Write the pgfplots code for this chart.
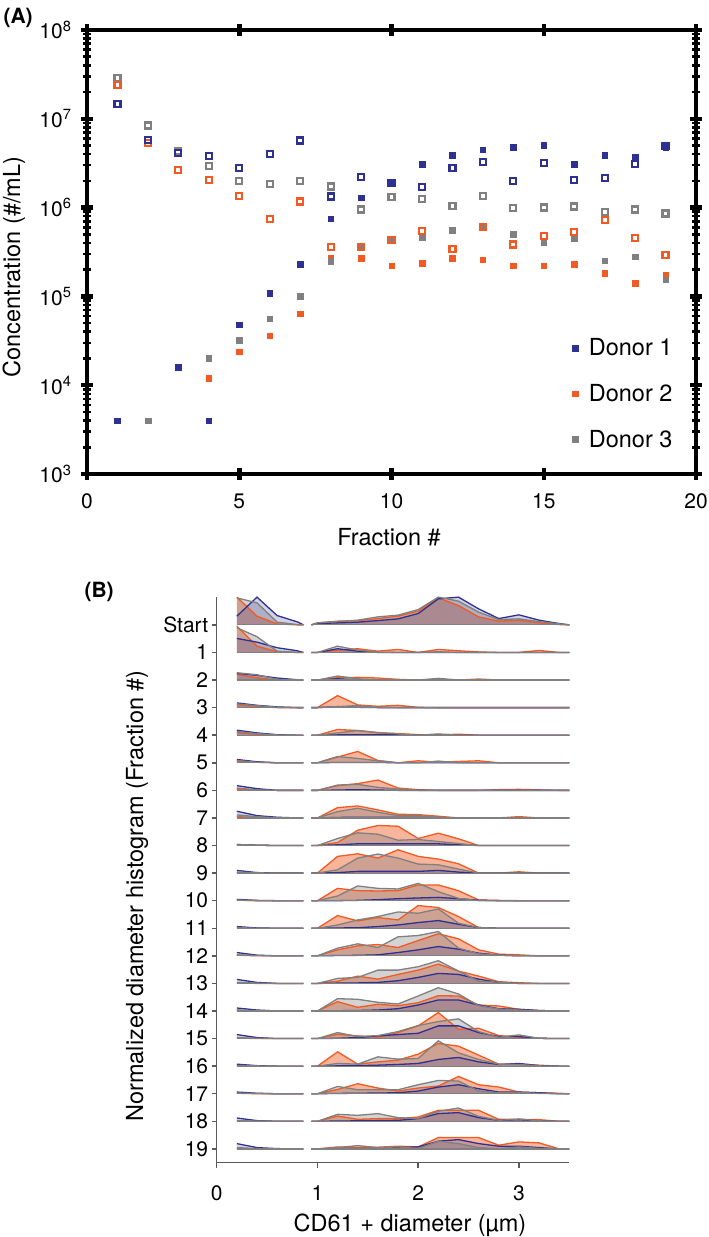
\documentclass[border=0pt]{standalone}
\usepackage{fontspec}
\setmainfont{TeX Gyre Heros}
\usepackage{pgfplots}
\usepackage{pgfplotstable}
\pgfplotsset{compat=1.18}

\definecolor{cBl}{RGB}{46,49,146}
\definecolor{cOr}{RGB}{241,90,34}
\definecolor{cGr}{RGB}{128,128,128}
\definecolor{axgray}{RGB}{90,90,90}

% ridgeline rows: x, heights (px) for donor 2 (o), donor 3 (g), donor 1 (b)
\pgfplotstableread{
x o g b
0.2 0 0 0
0.2 27.7 27 8.7
0.4 8.7 22 27.7
0.6 1 2.7 9.3
0.8 0 0.3 3
0.86 0 0 0
nan 0 0 0
0.94 0 0 0
1.0 2 2 1.3
1.2 3.7 3.3 2
1.4 4.3 4.7 2.7
1.6 6.3 8 4.3
1.8 8.7 9.7 6
2.0 13.7 15.3 11.3
2.2 27 27.7 26
2.4 19.3 23.7 27.7
2.6 8 12.7 16
2.8 3.7 5.3 6.3
3.0 4.7 6 10
3.2 2 3.3 4.7
3.4 0.3 1 1.3
3.5 0 0 0
}\rStart
\pgfplotstableread{
x o g b
0.2 0 0 0
0.2 26.3 24.7 14
0.4 6.3 15.7 10.3
0.6 0.7 1.3 4.7
0.8 0 0 1.7
0.86 0 0 0
nan 0 0 0
0.94 0 0 0
1.0 0 0 0
1.2 2.3 6.3 3.7
1.4 3.7 2.3 1.3
1.6 1.3 0.3 0
1.8 3 0 0
2.0 0 0 0
2.2 3 0.7 0
2.4 1.7 0 0
2.6 0.5 0 0
2.8 0 0 0
3.0 0 0 0
3.2 2 0 0
3.4 0 0 0
3.5 0 0 0
}\rA
\pgfplotstableread{
x o g b
0.2 0 0 0
0.2 5.7 7.3 6.7
0.4 2.3 5.3 4.7
0.6 0 0.7 2
0.8 0 0 0.3
0.86 0 0 0
nan 0 0 0
0.94 0 0 0
1.0 0 0 0
1.2 2.3 4 1.3
1.4 2.7 1.3 0
1.6 2 0 0
1.8 0.7 0 0
2.0 0 0 0
2.2 0 1.7 0
2.4 0 0 0
2.6 1 0 0
2.8 0 0 0
3.0 0 0 0
3.2 0 0 0
3.4 0 0 0
3.5 0 0 0
}\rB
\pgfplotstableread{
x o g b
0.2 0 0 0
0.2 2.7 3.7 4.7
0.4 1.3 2 2.3
0.6 0 0.3 0.7
0.8 0 0 0
0.86 0 0 0
nan 0 0 0
0.94 0 0 0
1.0 0 0 0
1.2 12 1 1
1.4 2.7 2 0.3
1.6 1.3 0.3 0
1.8 2.3 0 0
2.0 0.3 0 0
2.2 0 0 0
2.4 0 0 0
2.6 0 0 0
2.8 0 0 0
3.0 0 0 0
3.2 0 0 0
3.4 0 0 0
3.5 0 0 0
}\rC
\pgfplotstableread{
x o g b
0.2 0 0 0
0.2 2.7 3.7 5
0.4 1 1.5 2.3
0.6 0 0.3 0.5
0.8 0 0 0
0.86 0 0 0
nan 0 0 0
0.94 0 0 0
1.0 0 0 0
1.2 5.7 2.3 0.3
1.4 4.7 4.7 0.3
1.6 2.3 2.7 0.3
1.8 1.7 1.3 0.3
2.0 0.5 0 0
2.2 0.3 1.3 0
2.4 1 0 0
2.6 0 0 0
2.8 0 0 0
3.0 0 0 0
3.2 0 0 0
3.4 0 0 0
3.5 0 0 0
}\rD
\pgfplotstableread{
x o g b
0.2 0 0 0
0.2 1.7 2.3 3.3
0.4 0.5 0.5 1
0.6 0 0 0
0.8 0 0 0
0.86 0 0 0
nan 0 0 0
0.94 0 0 0
1.0 0 0 0
1.2 5.7 6.3 0.3
1.4 11.3 4.3 0.3
1.6 2.3 2 0.3
1.8 0 0 0
2.0 2 0 0
2.2 0.5 1.7 0
2.4 1.3 0 0
2.6 2 0 0
2.8 0 0 0
3.0 0 0 0
3.2 0 0 0
3.4 0 0 0
3.5 0 0 0
}\rE
\pgfplotstableread{
x o g b
0.2 0 0 0
0.2 1.3 2.3 4.7
0.4 0.3 0.5 1.7
0.6 0 0 0
0.8 0 0 0
0.86 0 0 0
nan 0 0 0
0.94 0 0 0
1.0 0 0 0
1.2 4.7 5.3 0.3
1.4 6.7 6 0.7
1.6 10.3 3 0.3
1.8 2.3 1.3 0
2.0 0.7 0 0
2.2 0 0 0
2.4 0 0 0
2.6 0 0 0
2.8 0.7 0 0
3.0 1 0 0
3.2 0.5 0 0
3.4 0 0 0
3.5 0 0 0
}\rF
\pgfplotstableread{
x o g b
0.2 0 0 0
0.2 1.3 3 6.7
0.4 0.3 1.3 2.3
0.6 0 0 0.7
0.8 0 0 0
0.86 0 0 0
nan 0 0 0
0.94 0 0 0
1.0 0 0 0
1.2 10.3 6.3 0.5
1.4 12 9.7 0.7
1.6 8 5.7 0.7
1.8 3.7 2.3 0.7
2.0 3.3 2.3 0.7
2.2 1.7 0.7 0.3
2.4 0 0 0
2.6 0 0 0
2.8 0 0 0
3.0 1.3 0 0
3.2 0 0 0
3.4 0 0 0
3.5 0 0 0
}\rG
\pgfplotstableread{
x o g b
0.2 0 0 0
0.2 0.7 1 1
0.4 0.3 0.3 0.3
0.6 0 0 0
0.8 0 0 0
0.86 0 0 0
nan 0 0 0
0.94 0 0 0
1.0 0 0 0
1.2 3 7 0.7
1.4 15.3 12.7 1.7
1.6 20 11.3 1.7
1.8 19.3 5.3 1.7
2.0 7 6 1.7
2.2 12.3 4 1.7
2.4 6.7 2 0.7
2.6 0 0 0
2.8 0 0 0
3.0 0 0 0
3.2 0 0 0
3.4 0 0 0
3.5 0 0 0
}\rH
\pgfplotstableread{
x o g b
0.2 0 0 0
0.2 0.5 1 2.7
0.4 0 0.3 0.5
0.6 0 0 0
0.8 0 0 0
0.86 0 0 0
nan 0 0 0
0.94 0 0 0
1.0 0 0 0
1.2 16.7 3.3 0.5
1.4 19.3 15 1.7
1.6 15 19 1.7
1.8 23.3 15 1.7
2.0 16.7 9 1.7
2.2 14 8.3 2.7
2.4 9.3 4 1
2.6 0 0 0
2.8 0 0 0
3.0 1.3 0 0
3.2 0 0 0
3.4 0 0 0
3.5 0 0 0
}\rI
\pgfplotstableread{
x o g b
0.2 0 0 0
0.2 0.5 0.7 1.3
0.4 0 0 0.3
0.6 0 0 0
0.8 0 0 0
0.86 0 0 0
nan 0 0 0
0.94 0 0 0
1.0 0 0 0
1.2 12.3 4.7 0
1.4 10 14.7 0.3
1.6 9.7 12.3 1
1.8 10 11.7 2
2.0 15.7 17.3 2.7
2.2 15.7 9 3.3
2.4 10 2.3 2
2.6 0.7 0 0.5
2.8 0.3 0 0
3.0 0 0 0
3.2 0 0 0
3.4 0 0 0
3.5 0 0 0
}\rJ
\pgfplotstableread{
x o g b
0.2 0 0 0
0.2 0.5 0.7 1.7
0.4 0 0 0.3
0.6 0 0 0
0.8 0 0 0
0.86 0 0 0
nan 0 0 0
0.94 0 0 0
1.0 0 0 0
1.2 12.7 3.3 0.3
1.4 7.3 8.3 0.5
1.6 10.7 11.7 1.7
1.8 8.3 16.3 3.3
2.0 22.7 15 5.7
2.2 20.7 19.3 7.7
2.4 11.7 5 4
2.6 0.7 0.7 0.7
2.8 0 0 0
3.0 0 0 0
3.2 0 0 0
3.4 0 0 0
3.5 0 0 0
}\rK
\pgfplotstableread{
x o g b
0.2 0 0 0
0.2 0.7 1 3.3
0.4 0 0.3 0.7
0.6 0 0 0
0.8 0 0 0
0.86 0 0 0
nan 0 0 0
0.94 0 0 0
1.0 0 0 0
1.2 6 7.7 0.3
1.4 10 12 0.5
1.6 11.3 8.3 1
1.8 8.3 19 3.3
2.0 15.3 20.3 6
2.2 22 24.3 9.3
2.4 17 7.7 6.7
2.6 6 2 2.7
2.8 1.7 0.7 0.7
3.0 1 0 0
3.2 0 0 0
3.4 0 0 0
3.5 0 0 0
}\rL
\pgfplotstableread{
x o g b
0.2 0 0 0
0.2 0.7 1 4
0.4 0 0.3 1
0.6 0 0 0
0.8 0 0 0
0.86 0 0 0
nan 0 0 0
0.94 0 0 0
1.0 0 0 0
1.2 2.3 5 0.3
1.4 7.3 6 0.5
1.6 4.3 13.3 1
1.8 9 13.3 2.7
2.0 13.3 16.7 6
2.2 19.3 22.7 10
2.4 12.3 12.3 9
2.6 7.3 2.3 4.3
2.8 1.7 1.3 1
3.0 0.7 0 0
3.2 0 0 0
3.4 0 0 0
3.5 0 0 0
}\rM
\pgfplotstableread{
x o g b
0.2 0 0 0
0.2 0.7 1 3
0.4 0 0.3 1
0.6 0 0 0
0.8 0 0 0
0.86 0 0 0
nan 0 0 0
0.94 0 0 0
1.0 0 0 0
1.2 9.3 12.3 0.3
1.4 3.7 11.7 0.5
1.6 6.7 8.7 1
1.8 5.3 7 2.3
2.0 8.3 15 6
2.2 15.3 23.3 11
2.4 15 17 11
2.6 6 5.3 6
2.8 5 2 2.3
3.0 1.7 1 1.7
3.2 0.5 0 0.5
3.4 0 0 0
3.5 0 0 0
}\rN
\pgfplotstableread{
x o g b
0.2 0 0 0
0.2 0.7 1 4
0.4 0 0.3 1
0.6 0 0 0
0.8 0 0 0
0.86 0 0 0
nan 0 0 0
0.94 0 0 0
1.0 0 0 0
1.2 4.3 6 0.3
1.4 2.7 2 1
1.6 1.3 3 2.7
1.8 6 7 4
2.0 12.7 13 5.3
2.2 26 17 12.7
2.4 9.3 19.7 12.7
2.6 10.3 7 6
2.8 3 1.3 2
3.0 1.3 3.7 2
3.2 0.3 0.3 0.3
3.4 0 0 0
3.5 0 0 0
}\rO
\pgfplotstableread{
x o g b
0.2 0 0 0
0.2 0.5 0.7 2
0.4 0 0.3 0.5
0.6 0 0 0
0.8 0 0 0
0.86 0 0 0
nan 0 0 0
0.94 0 0 0
1.0 0 0 0
1.2 14.3 2.7 0.3
1.4 2 2 0.5
1.6 4.3 9.3 1
1.8 6 7 1.7
2.0 12 7.7 2.7
2.2 22.7 25.3 6.7
2.4 20 13.3 8.7
2.6 11 6.7 4.3
2.8 2 2 1.7
3.0 2 1.7 2.7
3.2 1 0.3 0.5
3.4 0 0 0
3.5 0 0 0
}\rP
\pgfplotstableread{
x o g b
0.2 0 0 0
0.2 0.5 0.7 1.7
0.4 0 0.3 0.5
0.6 0 0 0
0.8 0 0 0
0.86 0 0 0
nan 0 0 0
0.94 0 0 0
1.0 0 0 0
1.2 4.3 7.3 0.3
1.4 10 4 0.5
1.6 5.7 4 0.7
1.8 2.7 4 1
2.0 5.7 9 2.7
2.2 7.7 13.3 6.7
2.4 17.3 12.7 9
2.6 9 2.7 5
2.8 6.7 1 1.7
3.0 1.7 1.5 1.7
3.2 1 0.3 1
3.4 0.5 0 0
3.5 0 0 0
}\rQ
\pgfplotstableread{
x o g b
0.2 0 0 0
0.2 0.5 0.7 3.3
0.4 0 0.3 0.7
0.6 0 0 0
0.8 0 0 0
0.86 0 0 0
nan 0 0 0
0.94 0 0 0
1.0 0 0 0
1.2 5.3 7 0.3
1.4 2 6 0.5
1.6 2.7 7.7 0.7
1.8 2.7 3.7 1
2.0 4.3 2.7 2.7
2.2 11 10 7.7
2.4 11 13.3 8.7
2.6 11 5 3.7
2.8 2 1 1
3.0 2 2.3 1.7
3.2 1.7 0.5 0.5
3.4 0 0 0
3.5 0 0 0
}\rR
\pgfplotstableread{
x o g b
0.2 0 0 0
0.2 0.3 1.3 5.3
0.4 0 0.3 1.3
0.6 0 0 0.3
0.8 0 0 0
0.86 0 0 0
nan 0 0 0
0.94 0 0 0
1.0 0 0 0
1.2 2 1.3 0.3
1.4 1.3 3.3 0.5
1.6 1.7 1.3 0.5
1.8 2.7 2 1.3
2.0 2 0.3 2
2.2 11.3 7.7 7.7
2.4 11.3 5.3 9.3
2.6 11.3 1.3 5.3
2.8 3.7 0.3 2.7
3.0 7 2 2.7
3.2 6 0.5 1.3
3.4 0 0 0
3.5 0 0 0
}\rS

% one ridge row: #1 table, #2 baseline
\newcommand{\ridge}[2]{%
  \addplot[fill=cOr, fill opacity=0.45, draw=none, unbounded coords=jump] table[x=x, y expr={#2+\thisrow{o}/27.55}] {#1};
  \addplot[fill=cGr, fill opacity=0.35, draw=none, unbounded coords=jump] table[x=x, y expr={#2+\thisrow{g}/27.55}] {#1};
  \addplot[fill=cBl, fill opacity=0.22, draw=none, unbounded coords=jump] table[x=x, y expr={#2+\thisrow{b}/27.55}] {#1};
  \addplot[cOr, line width=1.3pt, unbounded coords=jump, skip coords between index={0}{1}] table[x=x, y expr={#2+\thisrow{o}/27.55}] {#1};
  \addplot[cBl, line width=1.3pt, unbounded coords=jump, skip coords between index={0}{1}] table[x=x, y expr={#2+\thisrow{b}/27.55}] {#1};
  \addplot[cGr, line width=1.3pt, unbounded coords=jump, skip coords between index={0}{1}] table[x=x, y expr={#2+\thisrow{g}/27.55}] {#1};
  \addplot[cGr, line width=1.2pt, unbounded coords=jump, skip coords between index={0}{1}] table[x=x, y expr={#2}] {#1};
}

\begin{document}
\begin{tikzpicture}[x=1pt,y=1pt]
\useasboundingbox (0,0) rectangle (709,1237);

% (A) concentrations
\begin{axis}[
  at={(87pt,763pt)}, anchor=south west,
  scale only axis, width=609pt, height=444pt,
  xmin=0, xmax=20, ymin=1e3, ymax=1e8,
  ymode=log, log basis y=10,
  xtick={0,5,10,15,20}, xticklabels={0,5,10,15,20},
  ytick={1e3,1e4,1e5,1e6,1e7,1e8},
  yticklabels={10\textsuperscript{3},10\textsuperscript{4},10\textsuperscript{5},10\textsuperscript{6},10\textsuperscript{7},10\textsuperscript{8}},
  minor ytick={2e3,3e3,4e3,5e3,6e3,7e3,8e3,9e3,2e4,3e4,4e4,5e4,6e4,7e4,8e4,9e4,2e5,3e5,4e5,5e5,6e5,7e5,8e5,9e5,2e6,3e6,4e6,5e6,6e6,7e6,8e6,9e6,2e7,3e7,4e7,5e7,6e7,7e7,8e7,9e7},
  tick align=center, major tick length=12pt, minor tick length=8pt,
  major tick style={line width=4.5pt, black},
  minor tick style={line width=2.5pt, black},
  axis line style={line width=4pt, line cap=rect},
  ticklabel style={font=\fontsize{21}{25}\selectfont},
  xticklabel style={yshift=-10pt},
  yticklabel style={xshift=-6pt},
  label style={font=\fontsize{23.5}{28}\selectfont},
  xlabel={Fraction \#},
  ylabel={Concentration (\#/mL)},
  xlabel style={at={(axis description cs:0.496,-0.142)}, anchor=center},
  ylabel style={at={(axis description cs:-0.12,0.466)}, anchor=center, rotate=0},
  legend cell align=left,
  legend image code/.code={\path[draw=none, fill=none] (0pt,0pt) -- (11.5pt,0pt); \draw[#1] plot coordinates {(0pt,0pt)};},
  legend style={draw=none, fill=none, at={(0.792,0.314)}, anchor=north west,
    font=\fontsize{23.5}{28}\selectfont, row sep=23pt},
]
\addplot[only marks, mark=square*, mark size=2.8pt, color=cBl] coordinates {
(1,4e3) (3,1.6e4) (4,4e3) (5,4.8e4) (6,1.09e5) (7,2.3e5) (8,7.5e5) (9,1.29e6) (10,1.89e6)
(11,3.1e6) (12,3.87e6) (13,4.5e6) (14,4.8e6) (15,5.05e6) (16,3.07e6) (17,3.87e6) (18,3.75e6) (19,4.8e6)};
\addlegendentry{Donor 1}
\addplot[only marks, mark=square*, mark size=2.8pt, color=cOr] coordinates {
(4,1.19e4) (5,2.38e4) (6,3.6e4) (7,6.4e4) (8,2.68e5) (9,2.7e5) (10,2.22e5) (11,2.37e5)
(12,2.68e5) (13,2.59e5) (14,2.22e5) (15,2.22e5) (16,2.3e5) (17,1.83e5) (18,1.4e5) (19,1.76e5)};
\addlegendentry{Donor 2}
\addplot[only marks, mark=square*, mark size=2.8pt, color=cGr] coordinates {
(2,4e3) (4,2e4) (5,3.2e4) (6,5.6e4) (7,1.0e5) (8,2.48e5) (9,3.6e5) (10,4.35e5) (11,4.6e5)
(12,5.6e5) (13,6.0e5) (14,5.0e5) (15,4.1e5) (16,4.55e5) (17,2.52e5) (18,2.8e5) (19,1.54e5)};
\addlegendentry{Donor 3}
\addplot[only marks, mark=square, mark size=3pt, mark options={line width=2.2pt}, color=cGr, forget plot] coordinates {
(1,2.9e7) (2,8.4e6) (3,4.3e6) (4,2.96e6) (5,2.0e6) (6,1.86e6) (7,2.0e6) (8,1.73e6) (9,9.5e5) (10,1.31e6)
(11,1.25e6) (12,1.05e6) (13,1.34e6) (14,9.9e5) (15,1.0e6) (16,1.03e6) (17,8.9e5) (18,9.5e5) (19,8.6e5)};
\addplot[only marks, mark=square, mark size=3pt, mark options={line width=2.2pt}, color=cOr, forget plot] coordinates {
(1,2.4e7) (2,5.3e6) (3,2.67e6) (4,2.06e6) (5,1.34e6) (6,7.4e5) (7,1.17e6) (8,3.6e5) (9,3.6e5) (10,4.35e5)
(11,5.5e5) (12,3.42e5) (13,6.0e5) (14,3.85e5) (15,4.75e5) (16,5.3e5) (17,7.3e5) (18,4.5e5) (19,2.9e5)};
\addplot[only marks, mark=square, mark size=3pt, mark options={line width=2.2pt}, color=cBl, forget plot] coordinates {
(1,1.48e7) (2,5.8e6) (3,4.1e6) (4,3.84e6) (5,2.79e6) (6,4.05e6) (7,5.7e6) (8,1.33e6) (9,2.19e6) (10,1.89e6)
(11,1.69e6) (12,2.79e6) (13,3.26e6) (14,2.0e6) (15,3.15e6) (16,2.04e6) (17,2.15e6) (18,3.12e6) (19,4.9e6)};
\end{axis}

% (B) ridgeline histograms
\begin{axis}[
  at={(216.7pt,74.3pt)}, anchor=south west,
  scale only axis, width=352.6pt, height=565.4pt,
  xmin=0, xmax=3.5, ymin=0.5, ymax=21,
  axis x line*=bottom, axis y line*=left,
  axis line style={line width=1.5pt, color=axgray, -},
  tick align=outside, major tick length=5pt,
  major tick style={line width=1.5pt, color=axgray},
  xtick={0,1,2,3}, xticklabels={0,1,2,3},
  ytick={1,...,20},
  yticklabels={19,18,17,16,15,14,13,12,11,10,9,8,7,6,5,4,3,2,1,Start},
  ticklabel style={font=\fontsize{21}{25}\selectfont, text=black},
  xticklabel style={yshift=-14pt},
  label style={font=\fontsize{23.5}{28}\selectfont},
  xlabel={CD61 + diameter (µm)},
  ylabel={Normalized diameter histogram (Fraction \#)},
  xlabel style={at={(axis description cs:0.548,-0.122)}, anchor=base},
  ylabel style={at={(axis description cs:-0.226,0.4717)}, anchor=center, rotate=0},
  clip=false,
]
\ridge{\rStart}{20}
\ridge{\rA}{19}
\ridge{\rB}{18}
\ridge{\rC}{17}
\ridge{\rD}{16}
\ridge{\rE}{15}
\ridge{\rF}{14}
\ridge{\rG}{13}
\ridge{\rH}{12}
\ridge{\rI}{11}
\ridge{\rJ}{10}
\ridge{\rK}{9}
\ridge{\rL}{8}
\ridge{\rM}{7}
\ridge{\rN}{6}
\ridge{\rO}{5}
\ridge{\rP}{4}
\ridge{\rQ}{3}
\ridge{\rR}{2}
\ridge{\rS}{1}
\end{axis}

\node[anchor=base west, font=\fontsize{21}{25}\selectfont\bfseries] at (0,1213.5) {(A)};
\node[anchor=base west, font=\fontsize{21}{25}\selectfont\bfseries] at (81,639) {(B)};
\end{tikzpicture}
\end{document}
